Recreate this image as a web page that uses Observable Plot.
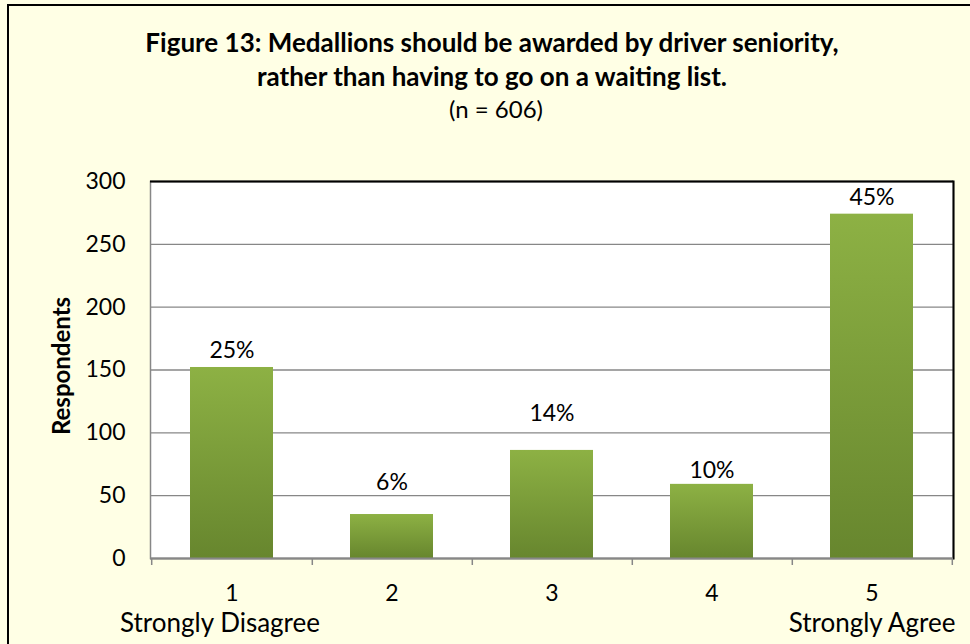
<!DOCTYPE html>
<html>
<head>
<meta charset="utf-8">
<script src="https://cdn.jsdelivr.net/npm/d3@7"></script>
<script src="https://cdn.jsdelivr.net/npm/@observablehq/plot@0.6"></script>
<style>
  html, body { margin: 0; padding: 0; background: #FFFFE5; }
  #chart { position: relative; width: 970px; height: 644px; background: #FFFFE5; overflow: hidden; font-family: Lato, "Open Sans", sans-serif; }
  #frame { position: absolute; left: 7px; top: 4px; width: 1000px; height: 700px; border-left: 2px solid #000; border-top: 2px solid #000; box-sizing: border-box; }
  .tl { position: absolute; left: 7px; width: 970px; text-align: center; color: #000; white-space: nowrap; }
  .b { font-weight: bold; font-size: 26px; line-height: 33px; }
  .r { font-size: 24px; line-height: 33px; }
  #plot { position: absolute; left: 0; top: 0; }
</style>
</head>
<body>
<div id="chart">
  <div id="frame"></div>
  <div id="plot"></div>
  <div class="tl b" style="top:26px">Figure 13: Medallions should be awarded by driver seniority,</div>
  <div class="tl b" style="top:60px">rather than having to go on a waiting list.</div>
  <div class="tl r" style="top:92px; left:11px">(n = 606)</div>
</div>
<script>
const categories = ["1", "2", "3", "4", "5"];
const respondents = [152, 35, 86, 59, 274];
const percentLabels = ["25%", "6%", "14%", "10%", "45%"];
const subLabels = ["Strongly Disagree", "", "", "", "Strongly Agree"];
const yTicks = [0, 50, 100, 150, 200, 250, 300];
const yLabel = "Respondents";

const data = categories.map((c, i) => ({cat: c, n: respondents[i], pct: percentLabels[i], sub: subLabels[i]}));

// style: label baseline gap above bar top (px), as in the reference
const labelGap = [9, 25, 29, 6, 9];
const fsNum = 23, fsWord = 26;
const W = 970, H = 644, mL = 150, mR = 17, mT = 181, mB = 86;
const step = (W - mL - mR) / categories.length;
const grey = "#878787";
const font = 'Lato, "Open Sans", sans-serif';

const labelMarks = data.map((d, i) =>
  Plot.text([d], {x: "cat", y: "n", text: "pct", lineAnchor: "bottom", dy: -labelGap[i], fontSize: fsNum, fill: "#000"})
);

const chart = Plot.plot({
  width: W, height: H,
  marginLeft: mL, marginRight: mR, marginTop: mT, marginBottom: mB,
  style: {background: "transparent", fontFamily: font, fontSize: fsNum + "px", color: "#000", overflow: "visible"},
  x: {domain: categories, paddingInner: 0.48, paddingOuter: 0.24, label: null},
  y: {domain: [0, 300], label: null},
  marks: [
    Plot.frame({fill: "white", stroke: grey, strokeWidth: 1.5}),
    Plot.gridY(yTicks, {stroke: grey, strokeOpacity: 1, strokeWidth: 1.3}),
    Plot.ruleY([300], {stroke: "#000", strokeWidth: 2}),
    Plot.frame({anchor: "right", stroke: "#000", strokeWidth: 2}),
    Plot.barY(data, {x: "cat", y: "n", fill: "url(#barGrad)"}),
    Plot.ruleY([0], {stroke: grey, strokeWidth: 2}),
    Plot.axisX({tickSize: 7, text: null, dx: step / 2, stroke: grey, strokeWidth: 1.5}),
    Plot.axisX([categories[0]], {tickSize: 7, text: null, dx: -step / 2, stroke: grey, strokeWidth: 1.5}),
    Plot.axisX({tickSize: 0, tickPadding: 26, fontSize: fsNum, fill: "#000"}),
    Plot.text(data.filter(d => d.sub === "Strongly Disagree"), {x: "cat", text: "sub", frameAnchor: "bottom", lineAnchor: "middle", dy: 65, dx: -12, fontSize: fsWord, fill: "#000"}),
    Plot.text(data.filter(d => d.sub === "Strongly Agree"), {x: "cat", text: "sub", frameAnchor: "bottom", lineAnchor: "middle", dy: 65, fontSize: fsWord, fill: "#000"}),
    Plot.axisY(yTicks, {tickSize: 0, tickPadding: 25, fontSize: fsNum, fill: "#000"}),
    Plot.text([yLabel], {frameAnchor: "left", textAnchor: "middle", lineAnchor: "middle", dx: -88, dy: -4, rotate: -90, fontWeight: "bold", fontSize: 24, fill: "#000"}),
    ...labelMarks
  ]
});

const svg = d3.select(chart);
const defs = svg.insert("defs", ":first-child");
const g = defs.append("linearGradient").attr("id", "barGrad").attr("x1", 0).attr("y1", 0).attr("x2", 0).attr("y2", 1);
g.append("stop").attr("offset", "0%").attr("stop-color", "#8DB144");
g.append("stop").attr("offset", "100%").attr("stop-color", "#67862E");
const f = defs.append("filter").attr("id", "shadow").attr("x", "-10%").attr("y", "-10%").attr("width", "130%").attr("height", "130%");
f.append("feDropShadow").attr("dx", 2).attr("dy", 2).attr("stdDeviation", 2).attr("flood-color", "#000").attr("flood-opacity", 0.3);
svg.selectAll("rect").filter(function() { return this.getAttribute("fill") === "url(#barGrad)"; }).attr("filter", "url(#shadow)");

document.getElementById("plot").appendChild(chart);
</script>
</body>
</html>
